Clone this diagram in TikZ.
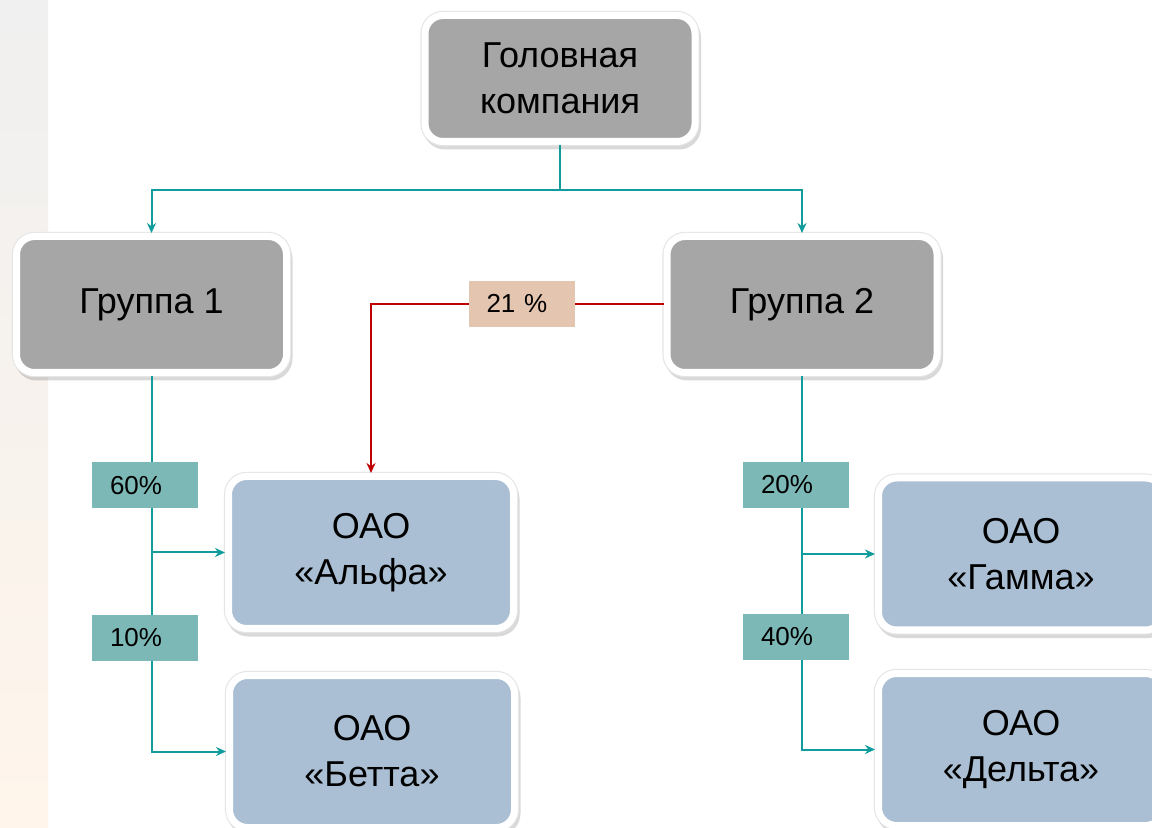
\documentclass[tikz,border=0pt]{standalone}
\usepackage{fontspec}
\setmainfont{Liberation Sans}
\usetikzlibrary{arrows.meta,shadows}
\definecolor{boxgray}{HTML}{A6A6A6}
\definecolor{boxblue}{HTML}{AABFD3}
\definecolor{linkteal}{HTML}{109C9C}
\definecolor{pctteal}{HTML}{7BB8B6}
\definecolor{pctpeach}{HTML}{E4C5B0}
\definecolor{ownred}{HTML}{C00000}
\begin{document}
\begin{tikzpicture}[x=0.5pt,y=-0.5pt,>={Stealth[length=5pt,width=4.5pt]},
    unit/.style={rounded corners=9pt,draw=white,line width=3.5pt,align=center,inner sep=0pt,
        font=\fontsize{18}{23}\selectfont,
        drop shadow={draw=black,line width=4pt,opacity=0.15,shadow xshift=1pt,shadow yshift=-2pt},
        preaction={draw=black!10,line width=4.6pt}},
    parent/.style={unit,fill=boxgray,minimum width=135pt,minimum height=68pt},
    firm/.style={unit,fill=boxblue,minimum width=142.5pt,minimum height=76pt},
    link/.style={draw=linkteal,line width=1pt},
    own/.style={draw=ownred,line width=1pt},
    pct/.style={fill=pctteal,text width=35pt,inner xsep=9pt,inner ysep=0pt,align=left,
        minimum height=23pt,font=\fontsize{13}{15}\selectfont}]
    \useasboundingbox (0,0) rectangle (1152,828);
    \clip (0,0) rectangle (1152,828);
    \fill[white] (0,0) rectangle (1152,828);
    \shade[top color=black!6!white,bottom color=orange!8!white] (0,0) rectangle (48,828);
    %% boxes
    \node[parent,minimum height=63pt] (head) at (560,78.5) {Головная\\компания};
    \node[parent] (grp1) at (151.5,304.5) {Группа 1};
    \node[parent] (grp2) at (802,304.5) {Группа 2};
    \node[firm] (alfa) at (371,552.5) {ОАО\\«Альфа»};
    \node[firm] (betta) at (372,751.5) {ОАО\\«Бетта»};
    \node[firm] (gamma) at (1021,554) {ОАО\\«Гамма»};
    \node[firm] (delta) at (1021,749.5) {ОАО\\«Дельта»};
    %% head -> groups
    \path (head.south) ++(0,45) coordinate (bus);
    \draw[link] (head.south) -- (bus);
    \draw[link,->] (bus) -| (grp1.north);
    \draw[link,->] (bus) -| (grp2.north);
    %% group 1
    \draw[link,->] (grp1.south) |- (alfa.west);
    \draw[link,->] (grp1.south) |- (betta.west);
    %% group 2
    \draw[link,->] (grp2.south) |- (gamma.west);
    \draw[link,->] (grp2.south) |- (delta.west);
    \draw[own,->] (grp2.west) -| (alfa.north);
    %% shares
    \node[pct] (p60) at (145,485.5) {60\%};
    \node[pct] (p10) at (145,638) {10\%};
    \node[pct] (p20) at (796,485) {20\%};
    \node[pct] (p40) at (796,637) {40\%};
    \node[pct,fill=pctpeach] (p21) at (521.5,304) {21 \%};
\end{tikzpicture}
\end{document}
